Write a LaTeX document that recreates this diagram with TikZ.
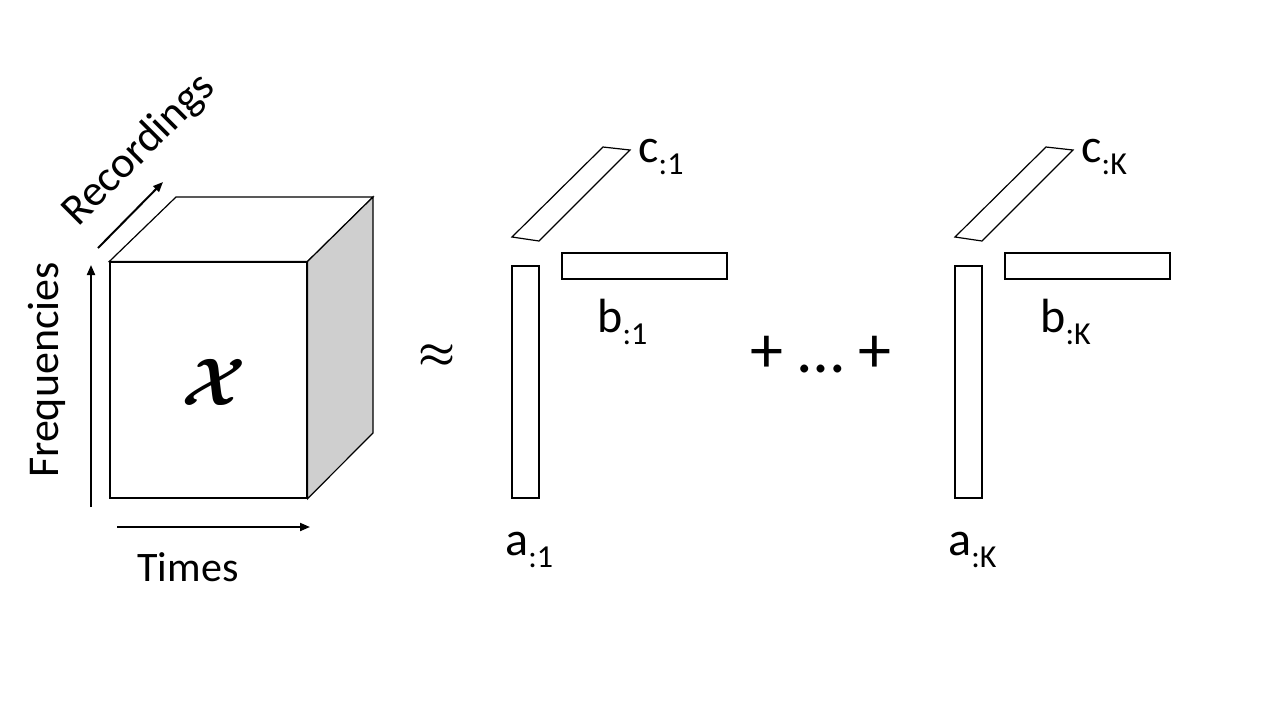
\documentclass[tikz,border=0pt]{standalone}
\usepackage{amsmath,amssymb}
\usepackage{fontspec}
\setmainfont{Carlito}
\usetikzlibrary{arrows.meta,positioning}

\newcommand{\factorlbl}[2]{#1\raisebox{-0.25em}{\fontsize{16}{18}\selectfont #2}}

\begin{document}
\begin{tikzpicture}[
    x=0.5pt, y=-0.5pt,
    face/.style={draw=black, line width=0.6pt},
    bar/.style={rectangle, draw=black, line width=0.6pt, fill=white, inner sep=0pt},
    axis/.style={-{Triangle[length=5pt, width=4pt]}, line width=1pt},
    axislbl/.style={font=\fontsize{21}{24}\selectfont, inner sep=0pt},
    factor/.style={font=\fontsize{24}{28}\selectfont, inner sep=0pt, anchor=base west}
]
    \useasboundingbox (0,0) rectangle (1280,720);

    % data tensor
    \node [rectangle, face, minimum width=98.5pt, minimum height=118pt, inner sep=0pt] (front) at (208.5,380) {};
    \coordinate (backtl) at (176,197);
    \coordinate (backtr) at (373,197);
    \coordinate (backbr) at (373,433);
    \draw [face] (front.north west) -- (backtl) -- (backtr) -- (front.north east) -- cycle;
    \draw [face, fill=black!19] (front.north east) -- (backtr) -- (backbr) -- (front.south east) -- cycle;
    \node (tensor) at (214,382) {\scalebox{1.35}{\fontsize{24}{28}\selectfont$\boldsymbol{\mathcal{X}}$}};

    % axes
    \coordinate (freqfrom) at (91,507);
    \coordinate (freqto) at (91,265);
    \coordinate (timefrom) at (117,527);
    \coordinate (timeto) at (310,527);
    \coordinate (recfrom) at (98,248);
    \coordinate (recto) at (163,182);
    \draw [axis] (freqfrom) -- (freqto);
    \draw [axis] (timefrom) -- (timeto);
    \draw [axis] (recfrom) -- (recto);
    \node [axislbl, font=\fontsize{22}{26}\selectfont, rotate=90] (freq) at (47,370) {Frequencies};
    \node [axislbl] (times) at (188,567) {Times};
    \node [axislbl, font=\fontsize{22}{26}\selectfont, rotate=45] (rec) at (139,150) {Recordings};

    \node (approx) at (437,356) {\fontsize{22}{26}\selectfont$\boldsymbol{\approx}$};
    \node (sum) at (821,355) {\fontsize{33}{36}\selectfont + … +};

    % rank-one terms
    \foreach \k/\dx in {1/0, K/443} {
        \node [bar, minimum width=13.5pt, minimum height=116pt] (abar\k) at (525.5+\dx,382) {};
        \node [bar, minimum width=82.5pt, minimum height=13pt] (bbar\k) at (644.5+\dx,266) {};
        \draw [face] (512+\dx,237) -- (539+\dx,241) -- (630+\dx,150) -- (603+\dx,147) -- cycle;
        \node [factor] (alab\k) at (505+\dx,555) {\factorlbl{a}{:\k}};
        \node [factor] (blab\k) at (597+\dx,332) {\factorlbl{b}{:\k}};
        \node [factor] (clab\k) at (638+\dx,162) {\factorlbl{c}{:\k}};
    }
\end{tikzpicture}
\end{document}
